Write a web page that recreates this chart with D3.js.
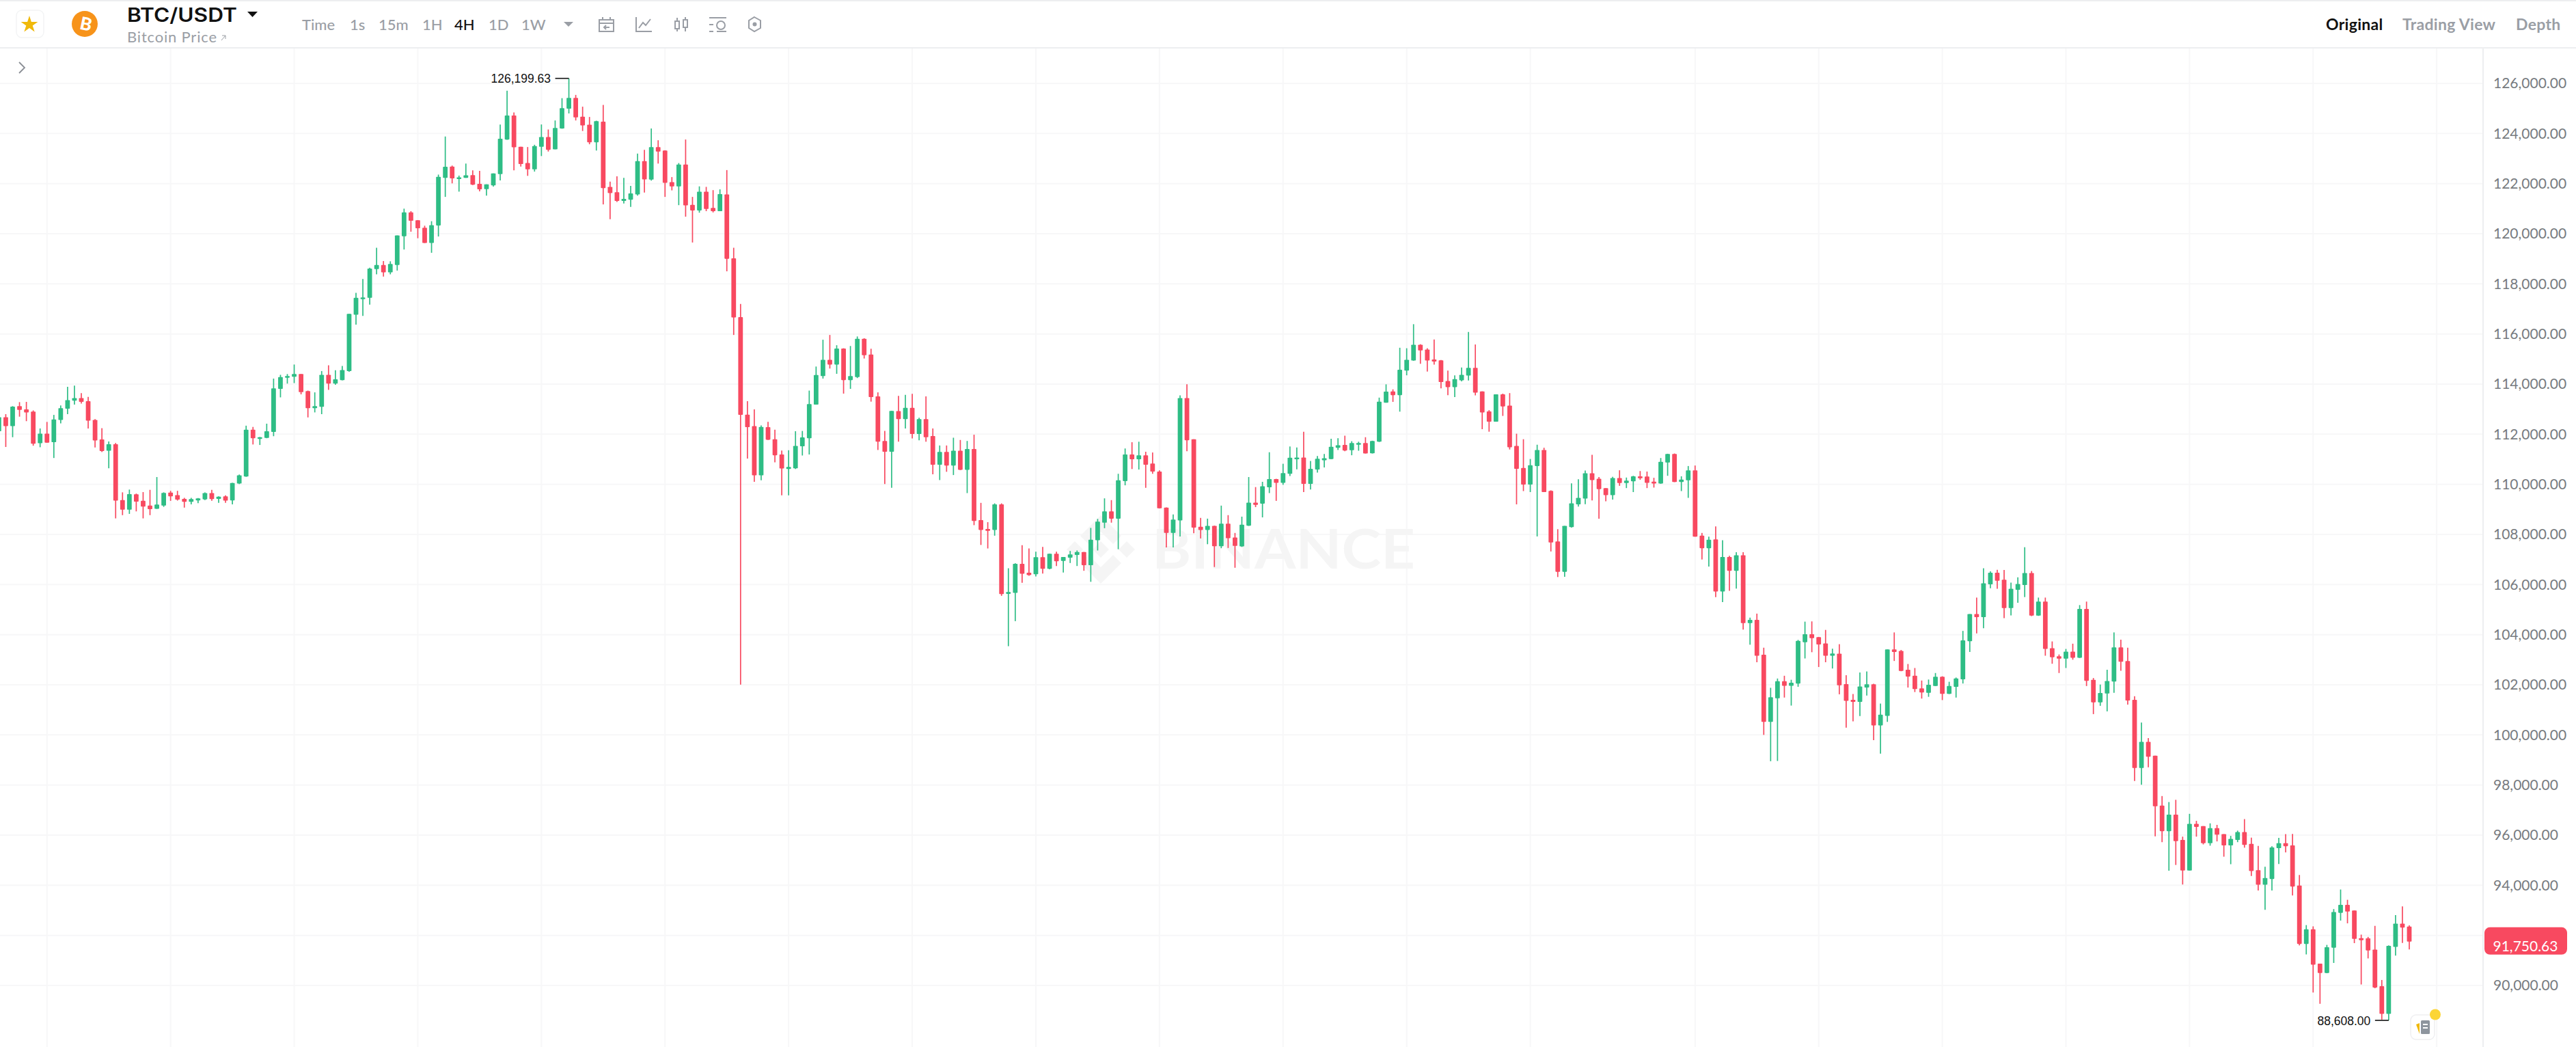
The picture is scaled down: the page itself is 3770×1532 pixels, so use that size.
<!DOCTYPE html>
<html>
<head>
<meta charset="utf-8">
<title>BTC/USDT</title>
<script src="https://cdn.jsdelivr.net/npm/d3@7"></script>
<style>
    html, body { margin: 0; padding: 0; background: #fff; overflow: hidden; }
    svg { display: block; }
    text { font-family: Lato, "Open Sans", sans-serif; }
</style>
</head>
<body>
<div id="chart"></div>
<script>
// 4H candles
const opens = [
    112120,112680,112320,113120,112990,112900,111640,112020,111680,112570,
    113020,113340,113440,113320,112570,111790,111340,111600,109370,108990,
    109600,109340,109150,109020,109150,109670,109570,109420,109300,109360,
    109400,109650,109420,109520,109360,110030,110310,112180,111820,111850,
    112090,113810,114260,114290,114400,113720,113040,113090,114370,114020,
    114160,114520,116770,117390,117440,118590,118750,118460,118750,119900,
    120850,120540,120240,119630,120330,122230,122680,122200,122230,122340,
    121990,121780,121930,122380,123760,124720,123470,122820,122570,123470,
    123860,123370,124200,124990,125420,124670,124350,123650,124470,121870,
    121660,121310,121360,121570,122900,122160,123460,123320,122060,121890,
    122760,121150,120930,121680,121030,120900,121570,119020,116670,112780,
    112320,110360,112280,111800,111190,110610,110640,111520,111840,113180,
    114320,114970,114780,115420,114160,114280,115810,115180,113510,111730,
    111300,112920,112600,113050,112010,112600,111930,110780,111290,110750,
    111340,110580,111410,108570,108220,108180,109200,105630,105670,106830,
    106470,106410,107090,106630,107230,106940,107070,107180,107300,106770,
    107770,108470,108920,108630,110130,111190,111000,111160,110830,110510,
    109070,108060,108560,113440,111800,108310,108180,108340,107530,108430,
    107880,107520,108350,109270,109230,109880,110210,110060,110420,111000,
    111070,110020,110590,110960,111010,111460,111570,111360,111580,111650,
    111240,111700,113260,113710,113560,114540,114940,115570,115380,114980,
    114950,114120,113880,114150,114340,114650,113710,112910,112500,113590,
    113140,111530,110650,109990,110730,111370,109740,107720,106510,108290,
    109200,109430,110440,110220,109850,109570,110250,110050,110120,110320,
    110310,110110,110030,110870,111210,110090,110160,110560,107950,107450,
    107800,105720,107100,106550,107170,104460,104590,103200,100520,101460,
    102140,101960,102050,103700,104020,103900,103650,103160,103240,102030,
    101400,101320,101890,102020,100380,100760,103410,103350,102600,102360,
    101860,101680,101950,102320,101640,101920,102220,103740,104820,104700,
    106010,106470,106190,105060,105790,105980,106460,104760,105320,103460,
    103140,103040,103320,103080,105030,102200,101300,101650,102130,103490,
    102950,101400,98680,99720,99170,97180,96160,96820,95810,94590,
    96450,96360,95680,96280,96040,95590,95810,96120,95650,94600,
    94020,94250,95480,95680,95590,93990,91660,92240,90870,90500,
    91510,92900,93220,92990,91890,91880,91430,89970,88870,91540,
    92470,92350
];
const highs = [
    112740,112800,113120,113280,113290,112950,112230,112490,112770,113150,
    113890,113940,113640,113490,112600,112240,111710,111650,109680,109790,
    109630,109690,109780,110290,109680,109740,109740,109460,109460,109450,
    109680,109780,109520,109560,110060,110390,112340,112290,111890,112420,
    114220,114370,114400,114780,114400,113740,113670,114520,114750,114550,
    114720,116800,117640,118190,118640,119440,118910,118900,119930,121000,
    120900,120540,120320,120500,122360,123880,122720,122320,122800,122530,
    122510,121970,122410,124360,125710,124840,123470,123460,123550,124360,
    124160,124520,125410,126199.63,125540,125070,124660,124510,125140,122080,
    122290,122230,121910,123200,123350,124200,123730,123330,122260,122820,
    123760,121470,121890,121870,121740,121770,122540,119440,117200,113320,
    112990,112350,112490,112180,111350,111360,112120,112130,113740,114700,
    115770,115960,115550,115430,115520,115900,115830,115410,113670,112130,
    112930,113530,113570,113610,112660,113510,112230,111550,111550,111860,
    111770,111730,111980,109260,108490,109240,109240,106650,106850,107570,
    107440,107310,107500,107230,107310,107100,107340,107360,107300,108260,
    108620,109440,109370,110420,111430,111680,111700,111300,111270,110560,
    109080,108800,113550,113990,111800,108660,108630,108350,109150,108770,
    108060,108710,110290,109890,110100,111280,110220,110820,111510,111470,
    112100,110930,111130,111210,111820,111840,111940,111720,111700,111880,
    111740,113460,113990,113790,115450,115430,116390,115590,115430,115780,
    114960,114540,114350,114660,116080,115580,113710,112960,113590,113620,
    113640,112020,111800,111010,111580,111460,109760,108210,108340,110040,
    110200,110550,111180,110290,109850,110300,110560,110270,110340,110530,
    110510,110260,111050,111220,111230,110320,110730,110750,108060,107910,
    108320,107770,107150,107290,107290,104680,104840,103480,101880,102250,
    102360,102200,103790,104520,104530,103910,104190,103440,103620,102380,
    101630,102490,102530,102040,101250,103410,104090,103390,102830,102670,
    102170,102210,102470,102340,102120,102290,104150,104820,105480,106650,
    106530,106590,106580,106080,106290,107490,106540,105480,105480,103730,
    103210,103430,103640,105180,105320,102270,102010,102600,104090,103800,
    103480,101540,100490,99870,99170,97560,97320,97410,95940,96850,
    96570,96360,96470,96410,96040,95970,96180,96640,95900,95570,
    94740,95560,95890,96040,96050,94410,92410,92360,90870,91620,
    93050,93830,93420,92990,92030,91940,92380,90220,91600,92810,
    93160,92400
];
const lows = [
    112050,111490,111880,112700,112520,111540,111480,111660,111050,112430,
    112800,113180,113220,112230,111470,111290,110640,108640,108770,108820,
    108920,108640,108770,109020,109100,109340,109350,109070,109200,109250,
    109370,109340,109260,109260,109200,110010,110300,111590,111570,111840,
    111920,113470,114020,114040,113590,112670,112870,112800,113770,113970,
    114150,114490,116370,116720,117170,118380,118290,118380,118530,119370,
    120080,119820,119630,119240,119890,121470,122010,121680,122230,121940,
    121690,121520,121880,122130,123750,122530,122680,122310,122480,123100,
    123280,123370,124190,124800,124520,124100,123570,123320,121170,120580,
    121270,121210,121070,121520,121640,122120,122800,121470,121730,121140,
    120680,119650,120840,120900,120850,120900,118500,115960,102010,111030,
    110100,110160,111770,110880,109560,109560,110610,111150,111190,113180,
    114220,114620,114410,113620,113810,114240,115020,113300,111370,110010,
    109860,111700,112230,111830,111760,111700,110400,110170,110500,110370,
    110570,109650,108370,107580,107440,107950,105550,103540,104540,106070,
    106350,106320,106440,106610,106740,106480,106860,106740,106550,106110,
    107360,108250,108470,107410,109960,110610,110590,109860,110420,109040,
    107480,107480,107920,111320,108050,107840,107610,106700,107450,107460,
    106670,107500,108340,109090,108680,109650,109340,109980,110330,110600,
    109690,109790,110470,110670,111010,111370,111320,111160,111340,111230,
    111230,111690,113260,113290,112900,114350,114930,114810,114500,114780,
    113830,113560,113480,114110,114140,113550,112200,112100,112500,112730,
    111390,109200,109730,109690,107920,109690,107320,106300,106310,108270,
    109110,109210,109360,108630,109320,109390,109940,109850,109690,110180,
    109850,109870,110020,110340,110090,109730,109460,107910,107000,106720,
    105500,105300,105750,105840,104200,103600,102900,100000,98950,98960,
    101490,101170,101920,103050,103300,102710,102900,102650,101620,100290,
    100540,100750,101570,99790,99250,100520,102950,102540,101890,101710,
    101450,101520,101950,101390,101630,101490,102050,103310,104050,104260,
    105850,105830,104660,104770,105270,105500,104740,104750,103160,102840,
    102470,102670,103000,103070,101950,100830,101160,100940,101680,102560,
    101210,98160,98010,98710,95950,95720,94580,94810,94030,94590,
    95940,95630,95580,95750,95140,94840,95720,95500,94370,93790,
    93020,93790,94850,95310,93590,91600,91240,89720,89270,90490,
    90900,92590,92480,91690,90040,91080,89890,88640,88608,91190,
    91700,91440
];
const closes = [
    112680,112320,113100,112970,112870,111620,112020,111660,112590,113040,
    113360,113440,113290,112540,111750,111330,111600,109350,108990,109610,
    109310,109110,109010,109190,109660,109520,109390,109300,109410,109440,
    109650,109410,109510,109350,110050,110360,112180,111840,111880,112120,
    113830,114280,114320,114400,113680,113040,113120,114370,114020,114190,
    114560,116800,117440,117460,118610,118750,118460,118790,119930,120850,
    120520,120220,119630,120340,122270,122670,122210,122250,122330,121960,
    121770,121970,122410,123790,124720,123450,122780,122570,123500,123860,
    123350,124220,125010,125420,124640,124320,123650,124490,121820,121620,
    121310,121390,121610,122900,122170,123460,123280,122030,121890,122760,
    121130,120930,121680,120990,120900,121580,119000,116660,112770,112280,
    110360,112290,111780,111160,110630,110690,111530,111870,113200,114360,
    114970,114780,115420,114160,114320,115810,115150,113480,111700,111300,
    112930,112600,113050,112010,112600,111880,110780,111290,110750,111340,
    110580,111410,108540,108180,108140,109200,105620,105700,106830,106430,
    106380,107090,106630,107230,106930,107100,107200,107300,106770,107790,
    108510,108920,108630,110160,111190,111000,111160,110780,110510,109040,
    108060,108590,113440,111760,108270,108180,108340,107530,108430,107850,
    107540,108390,109270,109180,109920,110210,110060,110450,111060,111070,
    110020,110620,111020,111040,111500,111560,111350,111650,111650,111230,
    111730,113300,113700,113560,114570,114970,115570,115340,114940,114900,
    114080,113880,114200,114370,114650,113660,112870,112500,113590,113110,
    111480,110620,109990,110760,111370,109690,107680,106510,108340,109240,
    109460,110440,110170,109810,109570,110250,110050,110150,110320,110240,
    110060,110030,110900,111210,110090,110190,110560,107910,107450,107790,
    105720,107100,106550,107170,104460,104590,103160,100520,101500,102140,
    101960,102080,103750,104020,103860,103610,103160,103250,101980,101360,
    101320,101930,102020,100380,100810,103410,103310,102550,102330,101830,
    101690,102000,102320,101640,101950,102250,103770,104820,104700,106050,
    106470,106150,105060,105830,106020,106460,104760,105320,103430,103100,
    103040,103320,103080,105030,102160,101300,101670,102150,103490,102920,
    101370,98680,99720,99130,97150,96160,96820,95760,94590,96450,
    96330,95680,96280,96020,95590,95850,96120,95610,94570,94020,
    94290,95510,95680,95560,93950,91660,92240,90830,90500,91530,
    92930,93220,92950,91860,91810,91400,89920,88870,91580,92470,
    92310,91750.63
];

const priceTicks = [90000, 92000, 94000, 96000, 98000, 100000, 102000, 104000, 106000, 108000,
    110000, 112000, 114000, 116000, 118000, 120000, 122000, 124000, 126000];
// candle index of each vertical grid line (one day-start skipped in the middle of the data)
const gridCandles = [7, 25, 43, 61, 79, 97, 115, 133, 151, 169, 187, 205, 223, 247, 265, 283, 301, 319, 337, 355];

const intervals = ["Time", "1s", "15m", "1H", "4H", "1D", "1W"];
const intervalX = [442, 512, 554, 618, 665, 715, 763];
const viewTabs = ["Original", "Trading View", "Depth"];
const viewTabX = [3404, 3516, 3682];

const lastPrice = 91750.63;
const highPrice = 126199.63;
const lowPrice = 88608;

const W = 3770, H = 1532;
const headerH = 70;
const axisX = 3634;
const UP = "#2EBD85", DOWN = "#F84960";
const GRID = "#F7F7F8", BORDER = "#EDEEF0", MUTED = "#9A9EA5";

const svg = d3.select("#chart").append("svg")
    .attr("width", W)
    .attr("height", H);

const xScale = d3.scaleLinear().domain([0, opens.length - 1]).range([-1.6, 3526]);
const yScale = d3.scaleLinear().domain([90000, 126000]).range([1442, 122]);

function drawGrid() {
    const g = svg.append("g");
    g.selectAll("line.h")
        .data(priceTicks)
        .enter()
        .append("line")
        .attr("x1", 0).attr("x2", axisX)
        .attr("y1", d => yScale(d)).attr("y2", d => yScale(d))
        .attr("stroke", GRID)
        .attr("stroke-width", 2);
    g.selectAll("line.v")
        .data(gridCandles)
        .enter()
        .append("line")
        .attr("x1", d => xScale(d)).attr("x2", d => xScale(d))
        .attr("y1", headerH).attr("y2", H)
        .attr("stroke", GRID)
        .attr("stroke-width", 2);
}

function drawWatermark() {
    const g = svg.append("g").attr("fill", "#F5F5F5");
    // binance diamonds
    g.append("g")
        .attr("transform", "translate(1611,804)")
        .selectAll("path")
        .data([
            "M0 -50 L30 -20 L18 -8 L0 -26 L-18 -8 L-30 -20 Z",
            "M0 50 L30 20 L18 8 L0 26 L-18 8 L-30 20 Z",
            "M-50 0 L-38 -12 L-26 0 L-38 12 Z",
            "M50 0 L38 -12 L26 0 L38 12 Z",
            "M0 -12 L12 0 L0 12 L-12 0 Z"
        ])
        .enter()
        .append("path")
        .attr("d", d => d);
    g.append("text")
        .attr("x", 1686)
        .attr("y", 832)
        .attr("textLength", 385)
        .attr("lengthAdjust", "spacingAndGlyphs")
        .style("font-size", "80px")
        .style("font-weight", 700)
        .text("BINANCE");
}

function drawCandles() {
    const candles = d3.range(opens.length);
    const colour = i => closes[i] >= opens[i] ? UP : DOWN;

    svg.append("g").selectAll("line")
        .data(candles)
        .enter()
        .append("line")
        .attr("x1", i => xScale(i)).attr("x2", i => xScale(i))
        .attr("y1", i => yScale(highs[i]))
        .attr("y2", i => yScale(lows[i]))
        .attr("stroke", colour)
        .attr("stroke-width", 1.7);

    svg.append("g").selectAll("rect")
        .data(candles)
        .enter()
        .append("rect")
        .attr("x", i => xScale(i) - 3.4)
        .attr("width", 6.8)
        .attr("y", i => yScale(Math.max(opens[i], closes[i])))
        .attr("height", i => Math.max(2.4, Math.abs(yScale(opens[i]) - yScale(closes[i]))))
        .attr("rx", 0.8)
        .attr("fill", colour);
}

function drawExtreme(price, anchorEnd) {
    // little black tag next to the highest and lowest wick
    const i = anchorEnd;
    const y = yScale(price);
    const g = svg.append("g");
    g.append("line")
        .attr("x1", xScale(i) - 20).attr("x2", xScale(i))
        .attr("y1", y).attr("y2", y)
        .attr("stroke", "#111")
        .attr("stroke-width", 1.6);
    g.append("text")
        .attr("x", xScale(i) - 26.5)
        .attr("y", y)
        .attr("dy", "0.38em")
        .attr("text-anchor", "end")
        .attr("fill", "#111")
        .style("font-family", "'Liberation Sans', Arial, sans-serif")
        .style("font-size", "17.5px")
        .text(d3.format(",.2f")(price));
}

function drawAxis() {
    svg.append("line")
        .attr("x1", axisX).attr("x2", axisX)
        .attr("y1", headerH).attr("y2", H)
        .attr("stroke", BORDER)
        .attr("stroke-width", 2);

    // the last price tag sits on top of the 92,000 label, so that one is not drawn
    const axis = d3.axisRight(yScale)
        .tickValues(priceTicks.filter(d => Math.abs(yScale(d) - yScale(lastPrice)) > 20))
        .tickSize(0)
        .tickPadding(15)
        .tickFormat(d3.format(",.2f"));
    const g = svg.append("g")
        .attr("transform", "translate(" + axisX + ",0)")
        .call(axis);
    g.select(".domain").remove();
    g.selectAll("text")
        .attr("fill", "#777B80")
        .style("font-family", "Lato, sans-serif")
        .style("font-size", "21px");

    // last price tag
    const tag = svg.append("g");
    tag.append("rect")
        .attr("x", 3636).attr("y", yScale(lastPrice) - 21)
        .attr("width", 121).attr("height", 40)
        .attr("rx", 8)
        .attr("fill", DOWN);
    tag.append("text")
        .attr("x", 3696)
        .attr("y", yScale(lastPrice) + 14)
        .attr("text-anchor", "middle")
        .attr("fill", "#fff")
        .style("font-size", "21px")
        .text(d3.format(",.2f")(lastPrice));
}

function drawHeader() {
    const g = svg.append("g");
    g.append("rect").attr("width", W).attr("height", 2).attr("fill", BORDER);
    g.append("rect").attr("y", headerH - 1).attr("width", W).attr("height", 2).attr("fill", BORDER);

    // favourite star
    g.append("rect")
        .attr("x", 24).attr("y", 15).attr("width", 40).attr("height", 40).attr("rx", 8)
        .attr("fill", "#fff").attr("stroke", "#F3F4F5").attr("stroke-width", 1.5);
    g.append("path")
        .attr("d", d3.symbol(d3.symbolStar, 190)())
        .attr("transform", "translate(43,36)")
        .attr("fill", "#F0B90B");

    // coin
    g.append("circle").attr("cx", 124).attr("cy", 35).attr("r", 19).attr("fill", "#F7931A");
    g.append("text")
        .attr("transform", "translate(124,44) rotate(12)")
        .attr("text-anchor", "middle")
        .attr("fill", "#fff")
        .style("font-size", "26px")
        .style("font-weight", 900)
        .text("B");

    g.append("text")
        .attr("x", 186).attr("y", 32)
        .attr("fill", "#111")
        .attr("textLength", 161)
        .attr("lengthAdjust", "spacingAndGlyphs")
        .style("font-family", "Inter, sans-serif")
        .style("font-size", "28px")
        .style("font-weight", 600)
        .text("BTC/USDT");
    g.append("path").attr("d", "M362 17 L377 17 L369.5 25 Z").attr("fill", "#111");

    g.append("text")
        .attr("x", 186).attr("y", 62)
        .attr("fill", MUTED)
        .attr("textLength", 131)
        .style("font-size", "22px")
        .text("Bitcoin Price");
    g.append("path")
        .attr("d", "M324 59 L330 52 M325 52 L330 52 L330 57")
        .attr("fill", "none").attr("stroke", MUTED).attr("stroke-width", 1);

    g.selectAll("text.interval")
        .data(intervals)
        .enter()
        .append("text")
        .attr("x", (d, i) => intervalX[i])
        .attr("y", 44)
        .attr("fill", d => d === "4H" ? "#111" : MUTED)
        .style("font-size", "22px")
        .style("font-weight", 500)
        .text(d => d);
    g.append("path").attr("d", "M825 32 L839 32 L832 39 Z").attr("fill", MUTED);

    // toolbar icons
    const icon = g.append("g")
        .attr("fill", "none").attr("stroke", MUTED).attr("stroke-width", 2);
    icon.append("path").attr("d", "M877 29 H898 V46 H877 Z M877 34 H898 M882 25 V29 M893 25 V29 M892 40 H884 M887 37 L884 40 L887 43");
    icon.append("path").attr("d", "M931 25 V46 H954 M935 41 L941 33 L945 37 L952 28");
    icon.append("path").attr("d", "M988 31 H994 V42 H988 Z M1000 29 H1006 V40 H1000 Z M991 26 V31 M991 42 V46 M1003 25 V29 M1003 40 V46");
    icon.append("path").attr("d", "M1038 26 H1063 M1038 36 H1044 M1038 46 H1044 M1049 46 H1063");
    icon.append("circle").attr("cx", 1055).attr("cy", 37).attr("r", 6);
    icon.append("path").attr("d", "M1104 25 L1113 30 V41 L1104 46 L1096 41 V30 Z");
    g.append("circle").attr("cx", 1104.5).attr("cy", 35.5).attr("r", 3).attr("fill", MUTED);

    g.selectAll("text.tab")
        .data(viewTabs)
        .enter()
        .append("text")
        .attr("x", (d, i) => viewTabX[i])
        .attr("y", 44)
        .attr("fill", d => d === "Original" ? "#111" : MUTED)
        .style("font-size", "23px")
        .style("font-weight", 700)
        .style("letter-spacing", "0.3px")
        .text(d => d);

    // sidebar arrow
    g.append("path")
        .attr("d", "M28 91 L36 99 L28 107")
        .attr("fill", "none").attr("stroke", "#8A8E95").attr("stroke-width", 1.8);
}

function drawNoteButton() {
    const g = svg.append("g");
    g.append("rect")
        .attr("x", 3528).attr("y", 1485).attr("width", 35).attr("height", 36).attr("rx", 8)
        .attr("fill", "#fff").attr("stroke", "#EFEFF1").attr("stroke-width", 1.5);
    g.append("rect")
        .attr("x", 3543).attr("y", 1493).attr("width", 13).attr("height", 20).attr("rx", 1.5)
        .attr("fill", "#8E959E");
    g.append("path").attr("d", "M3546 1499 H3553 M3546 1504 H3553").attr("stroke", "#fff").attr("stroke-width", 2);
    g.append("path").attr("d", "M3536 1499 L3541 1497 L3541 1513 Z").attr("fill", "#F0B90B");
    g.append("circle").attr("cx", 3564).attr("cy", 1484.5).attr("r", 8).attr("fill", "#FCD535");
}

drawGrid();
drawWatermark();
drawCandles();
drawExtreme(highPrice, highs.indexOf(highPrice));
drawExtreme(lowPrice, lows.indexOf(lowPrice));
drawAxis();
drawHeader();
drawNoteButton();
</script>
</body>
</html>
